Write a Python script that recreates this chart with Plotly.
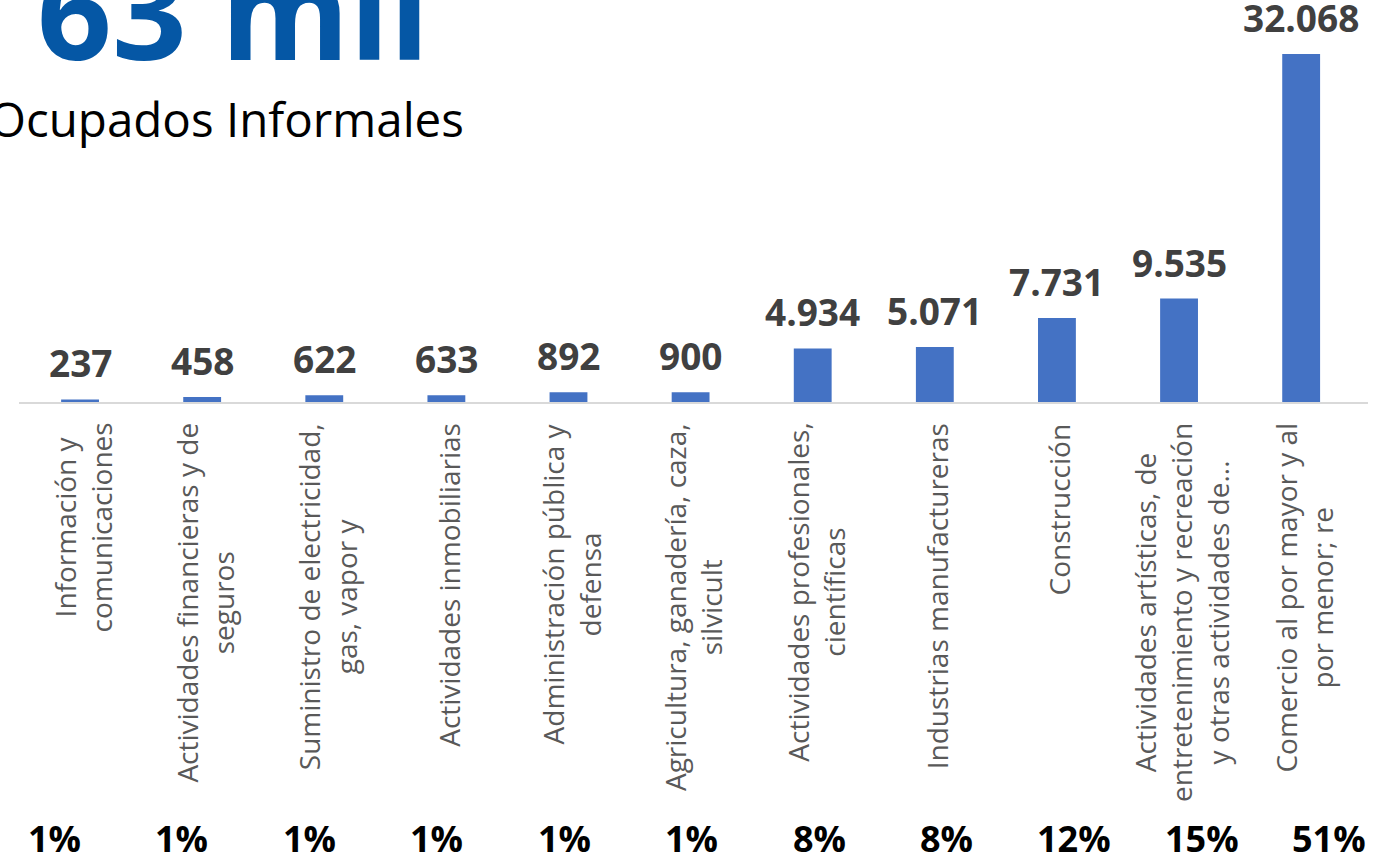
import plotly.graph_objects as go

categories = [
    "Información y comunicaciones",
    "Actividades financieras y de seguros",
    "Suministro de electricidad, gas, vapor y",
    "Actividades inmobiliarias",
    "Administración pública y defensa",
    "Agricultura, ganadería, caza, silvicult",
    "Actividades profesionales, científicas",
    "Industrias manufactureras",
    "Construcción",
    "Actividades artísticas, de entretenimiento y recreación y otras actividades de...",
    "Comercio al por mayor y al por menor; re",
]
tick_labels = [
    "Información y<br>comunicaciones",
    "Actividades financieras y de<br>seguros",
    "Suministro de electricidad,<br>gas, vapor y",
    "Actividades inmobiliarias",
    "Administración pública y<br>defensa",
    "Agricultura, ganadería, caza,<br>silvicult",
    "Actividades profesionales,<br>científicas",
    "Industrias manufactureras",
    "Construcción",
    "Actividades artísticas, de<br>entretenimiento y recreación<br>y otras actividades de...",
    "Comercio al por mayor y al<br>por menor; re",
]
values = [237, 458, 622, 633, 892, 900, 4934, 5071, 7731, 9535, 32068]
percent_labels = ["1%", "1%", "1%", "1%", "1%", "1%", "8%", "8%", "12%", "15%", "51%"]
title_text = "63 mil"
subtitle_text = "Ocupados Informales"

W, H = 1396, 856
L, R, T, B = 19, 28, 0, 454
PW = W - L - R

fig = go.Figure()
fig.add_trace(go.Bar(
    x=categories, y=values,
    marker=dict(color="#4472C4", line=dict(width=0)),
    width=0.31,
    hoverinfo="skip",
))

annotations = []
for c, v in zip(categories, values):
    annotations.append(dict(
        x=c, y=v, xref="x", yref="y", text=f"{v:,}".replace(",", "."),
        showarrow=False, yanchor="bottom", yshift=9,
        font=dict(family="Open Sans", size=37, color="#404040", weight="bold"),
    ))
for i, lab in enumerate(tick_labels):
    annotations.append(dict(
        x=i + 0.02, y=0, xref="x", yref="paper", text=lab, textangle=-90,
        showarrow=False, yanchor="top", xanchor="center", yshift=-19, align="center",
        font=dict(family="Open Sans", size=28, color="#595959"),
    ))
for i, p in enumerate(percent_labels):
    annotations.append(dict(
        x=i * 1.044 - 0.212, y=0, xref="x", yref="paper", text=p,
        showarrow=False, yanchor="middle", xanchor="center", yshift=-436,
        font=dict(family="Open Sans", size=36, color="#000000", weight="bold"),
    ))
annotations.append(dict(
    x=(35 - L) / PW, y=1, xref="paper", yref="paper", text=title_text,
    showarrow=False, xanchor="left", yanchor="bottom", yshift=-100,
    font=dict(family="Open Sans", size=131, color="#0557A5", weight="bold"),
))
annotations.append(dict(
    x=(466 - L) / PW, y=1, xref="paper", yref="paper", text=subtitle_text,
    showarrow=False, xanchor="right", yanchor="middle", yshift=-118,
    font=dict(family="Open Sans", size=47.5, color="#000000"),
))

fig.update_layout(
    width=W, height=H,
    margin=dict(l=L, r=R, t=T, b=B),
    paper_bgcolor="white", plot_bgcolor="white",
    showlegend=False,
    xaxis=dict(showticklabels=False, showgrid=False, zeroline=False, ticks="",
               showline=True, linecolor="#D9D9D9", linewidth=2),
    yaxis=dict(visible=False, range=[0, 37044], showgrid=False, zeroline=False),
    annotations=annotations,
)
fig.write_html("out.html", config={"displayModeBar": False},
               post_script="document.body.style.margin='0';document.body.style.overflow='hidden';")
